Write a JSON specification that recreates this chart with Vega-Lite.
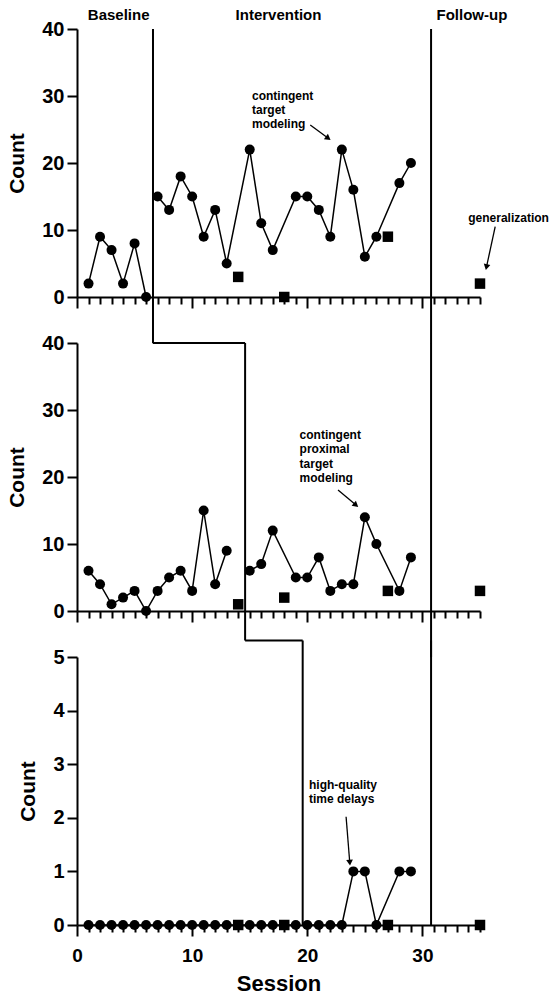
{
  "$schema": "https://vega.github.io/schema/vega-lite/v6.json",
  "padding": {"left": 6, "top": 7, "right": 0, "bottom": 0},
  "bounds": "flush",
  "spacing": 46,
  "config": {
    "font": "Liberation Sans",
    "view": {"stroke": null},
    "axis": {"grid": false, "domainColor": "black", "domainWidth": 2, "tickColor": "black", "tickWidth": 2, "labelColor": "black", "titleColor": "black", "labelFont": "Liberation Sans", "titleFont": "Liberation Sans", "labelFontWeight": "bold", "titleFontWeight": "bold", "labelFontSize": 20, "titleFontSize": 21}
  },
  "datasets": {
    "pts": [
      {"panel": 1, "session": 1, "count": 2, "marker": "circle", "phase": "baseline"},
      {"panel": 1, "session": 2, "count": 9, "marker": "circle", "phase": "baseline"},
      {"panel": 1, "session": 3, "count": 7, "marker": "circle", "phase": "baseline"},
      {"panel": 1, "session": 4, "count": 2, "marker": "circle", "phase": "baseline"},
      {"panel": 1, "session": 5, "count": 8, "marker": "circle", "phase": "baseline"},
      {"panel": 1, "session": 6, "count": 0, "marker": "circle", "phase": "baseline"},
      {"panel": 1, "session": 7, "count": 15, "marker": "circle", "phase": "intervention"},
      {"panel": 1, "session": 8, "count": 13, "marker": "circle", "phase": "intervention"},
      {"panel": 1, "session": 9, "count": 18, "marker": "circle", "phase": "intervention"},
      {"panel": 1, "session": 10, "count": 15, "marker": "circle", "phase": "intervention"},
      {"panel": 1, "session": 11, "count": 9, "marker": "circle", "phase": "intervention"},
      {"panel": 1, "session": 12, "count": 13, "marker": "circle", "phase": "intervention"},
      {"panel": 1, "session": 13, "count": 5, "marker": "circle", "phase": "intervention"},
      {"panel": 1, "session": 14, "count": 3, "marker": "square", "phase": "intervention"},
      {"panel": 1, "session": 15, "count": 22, "marker": "circle", "phase": "intervention"},
      {"panel": 1, "session": 16, "count": 11, "marker": "circle", "phase": "intervention"},
      {"panel": 1, "session": 17, "count": 7, "marker": "circle", "phase": "intervention"},
      {"panel": 1, "session": 18, "count": 0, "marker": "square", "phase": "intervention"},
      {"panel": 1, "session": 19, "count": 15, "marker": "circle", "phase": "intervention"},
      {"panel": 1, "session": 20, "count": 15, "marker": "circle", "phase": "intervention"},
      {"panel": 1, "session": 21, "count": 13, "marker": "circle", "phase": "intervention"},
      {"panel": 1, "session": 22, "count": 9, "marker": "circle", "phase": "intervention"},
      {"panel": 1, "session": 23, "count": 22, "marker": "circle", "phase": "intervention"},
      {"panel": 1, "session": 24, "count": 16, "marker": "circle", "phase": "intervention"},
      {"panel": 1, "session": 25, "count": 6, "marker": "circle", "phase": "intervention"},
      {"panel": 1, "session": 26, "count": 9, "marker": "circle", "phase": "intervention"},
      {"panel": 1, "session": 27, "count": 9, "marker": "square", "phase": "intervention"},
      {"panel": 1, "session": 28, "count": 17, "marker": "circle", "phase": "intervention"},
      {"panel": 1, "session": 29, "count": 20, "marker": "circle", "phase": "intervention"},
      {"panel": 1, "session": 35, "count": 2, "marker": "square", "phase": "follow-up"},

      {"panel": 2, "session": 1, "count": 6, "marker": "circle", "phase": "baseline"},
      {"panel": 2, "session": 2, "count": 4, "marker": "circle", "phase": "baseline"},
      {"panel": 2, "session": 3, "count": 1, "marker": "circle", "phase": "baseline"},
      {"panel": 2, "session": 4, "count": 2, "marker": "circle", "phase": "baseline"},
      {"panel": 2, "session": 5, "count": 3, "marker": "circle", "phase": "baseline"},
      {"panel": 2, "session": 6, "count": 0, "marker": "circle", "phase": "baseline"},
      {"panel": 2, "session": 7, "count": 3, "marker": "circle", "phase": "baseline"},
      {"panel": 2, "session": 8, "count": 5, "marker": "circle", "phase": "baseline"},
      {"panel": 2, "session": 9, "count": 6, "marker": "circle", "phase": "baseline"},
      {"panel": 2, "session": 10, "count": 3, "marker": "circle", "phase": "baseline"},
      {"panel": 2, "session": 11, "count": 15, "marker": "circle", "phase": "baseline"},
      {"panel": 2, "session": 12, "count": 4, "marker": "circle", "phase": "baseline"},
      {"panel": 2, "session": 13, "count": 9, "marker": "circle", "phase": "baseline"},
      {"panel": 2, "session": 14, "count": 1, "marker": "square", "phase": "baseline"},
      {"panel": 2, "session": 15, "count": 6, "marker": "circle", "phase": "intervention"},
      {"panel": 2, "session": 16, "count": 7, "marker": "circle", "phase": "intervention"},
      {"panel": 2, "session": 17, "count": 12, "marker": "circle", "phase": "intervention"},
      {"panel": 2, "session": 18, "count": 2, "marker": "square", "phase": "intervention"},
      {"panel": 2, "session": 19, "count": 5, "marker": "circle", "phase": "intervention"},
      {"panel": 2, "session": 20, "count": 5, "marker": "circle", "phase": "intervention"},
      {"panel": 2, "session": 21, "count": 8, "marker": "circle", "phase": "intervention"},
      {"panel": 2, "session": 22, "count": 3, "marker": "circle", "phase": "intervention"},
      {"panel": 2, "session": 23, "count": 4, "marker": "circle", "phase": "intervention"},
      {"panel": 2, "session": 24, "count": 4, "marker": "circle", "phase": "intervention"},
      {"panel": 2, "session": 25, "count": 14, "marker": "circle", "phase": "intervention"},
      {"panel": 2, "session": 26, "count": 10, "marker": "circle", "phase": "intervention"},
      {"panel": 2, "session": 27, "count": 3, "marker": "square", "phase": "intervention"},
      {"panel": 2, "session": 28, "count": 3, "marker": "circle", "phase": "intervention"},
      {"panel": 2, "session": 29, "count": 8, "marker": "circle", "phase": "intervention"},
      {"panel": 2, "session": 35, "count": 3, "marker": "square", "phase": "follow-up"},

      {"panel": 3, "session": 1, "count": 0, "marker": "circle", "phase": "baseline"},
      {"panel": 3, "session": 2, "count": 0, "marker": "circle", "phase": "baseline"},
      {"panel": 3, "session": 3, "count": 0, "marker": "circle", "phase": "baseline"},
      {"panel": 3, "session": 4, "count": 0, "marker": "circle", "phase": "baseline"},
      {"panel": 3, "session": 5, "count": 0, "marker": "circle", "phase": "baseline"},
      {"panel": 3, "session": 6, "count": 0, "marker": "circle", "phase": "baseline"},
      {"panel": 3, "session": 7, "count": 0, "marker": "circle", "phase": "baseline"},
      {"panel": 3, "session": 8, "count": 0, "marker": "circle", "phase": "baseline"},
      {"panel": 3, "session": 9, "count": 0, "marker": "circle", "phase": "baseline"},
      {"panel": 3, "session": 10, "count": 0, "marker": "circle", "phase": "baseline"},
      {"panel": 3, "session": 11, "count": 0, "marker": "circle", "phase": "baseline"},
      {"panel": 3, "session": 12, "count": 0, "marker": "circle", "phase": "baseline"},
      {"panel": 3, "session": 13, "count": 0, "marker": "circle", "phase": "baseline"},
      {"panel": 3, "session": 14, "count": 0, "marker": "square", "phase": "baseline"},
      {"panel": 3, "session": 15, "count": 0, "marker": "circle", "phase": "baseline"},
      {"panel": 3, "session": 16, "count": 0, "marker": "circle", "phase": "baseline"},
      {"panel": 3, "session": 17, "count": 0, "marker": "circle", "phase": "baseline"},
      {"panel": 3, "session": 18, "count": 0, "marker": "square", "phase": "baseline"},
      {"panel": 3, "session": 19, "count": 0, "marker": "circle", "phase": "baseline"},
      {"panel": 3, "session": 20, "count": 0, "marker": "circle", "phase": "intervention"},
      {"panel": 3, "session": 21, "count": 0, "marker": "circle", "phase": "intervention"},
      {"panel": 3, "session": 22, "count": 0, "marker": "circle", "phase": "intervention"},
      {"panel": 3, "session": 23, "count": 0, "marker": "circle", "phase": "intervention"},
      {"panel": 3, "session": 24, "count": 1, "marker": "circle", "phase": "intervention"},
      {"panel": 3, "session": 25, "count": 1, "marker": "circle", "phase": "intervention"},
      {"panel": 3, "session": 26, "count": 0, "marker": "circle", "phase": "intervention"},
      {"panel": 3, "session": 27, "count": 0, "marker": "square", "phase": "intervention"},
      {"panel": 3, "session": 28, "count": 1, "marker": "circle", "phase": "intervention"},
      {"panel": 3, "session": 29, "count": 1, "marker": "circle", "phase": "intervention"},
      {"panel": 3, "session": 35, "count": 0, "marker": "square", "phase": "follow-up"}
    ],
    "rules": [
      {"panel": 1, "session": 6.6, "session2": 6.6, "count": 40, "count2": -6.9},
      {"panel": 1, "session": 30.75, "session2": 30.75, "count": 40, "count2": -6.9},
      {"panel": 2, "session": 6.6, "session2": 14.6, "count": 40, "count2": 40},
      {"panel": 2, "session": 14.6, "session2": 14.6, "count": 40, "count2": -4.39},
      {"panel": 2, "session": 30.75, "session2": 30.75, "count": 40, "count2": -6.9},
      {"panel": 3, "session": 14.6, "session2": 19.6, "count": 5.31, "count2": 5.31},
      {"panel": 3, "session": 19.6, "session2": 19.6, "count": 5.31, "count2": 0},
      {"panel": 3, "session": 30.75, "session2": 30.75, "count": 5.31, "count2": 0}
    ],
    "phases": [
      {"session": 3.62, "count": 42.1, "label": "Baseline"},
      {"session": 17.5, "count": 42.1, "label": "Intervention"},
      {"session": 34.3, "count": 42.1, "label": "Follow-up"}
    ],
    "notes": [
      {"panel": 1, "session": 15.2, "count": 30.8, "label": "contingent\ntarget\nmodeling"},
      {"panel": 2, "session": 19.33, "count": 27.0, "label": "contingent\nproximal\ntarget\nmodeling"},
      {"panel": 3, "session": 20.15, "count": 2.71, "label": "high-quality\ntime delays"}
    ],
    "centerNotes": [
      {"panel": 1, "session": 37.48, "count": 11.83, "label": "generalization"}
    ],
    "arrows": [
      {"panel": 1, "note": "top", "session": 20.26, "count": 25.67, "session2": 21.82, "count2": 23.7},
      {"panel": 1, "note": "gen", "session": 36.32, "count": 10.49, "session2": 35.56, "count2": 4.46},
      {"panel": 2, "note": "mid", "session": 22.67, "count": 18.06, "session2": 24.23, "count2": 15.81},
      {"panel": 3, "note": "bot", "session": 23.37, "count": 2.02, "session2": 23.69, "count2": 1.162}
    ],
    "heads": [
      {"panel": 1, "note": "top", "session": 21.82, "count": 23.7},
      {"panel": 1, "note": "gen", "session": 35.56, "count": 4.46},
      {"panel": 2, "note": "mid", "session": 24.23, "count": 15.81},
      {"panel": 3, "note": "bot", "session": 23.69, "count": 1.162}
    ]
  },
  "vconcat": [
    {
      "width": 403,
      "height": 268,
      "encoding": {
        "x": {"field": "session", "type": "quantitative", "scale": {"domain": [0, 35], "nice": false, "zero": false},
          "axis": {"values": [0,1,2,3,4,5,6,7,8,9,10,11,12,13,14,15,16,17,18,19,20,21,22,23,24,25,26,27,28,29,30,31,32,33,34,35], "labels": false, "title": null,
            "tickSize": {"condition": {"test": "datum.value % 10 === 0", "value": 11}, "value": 7}}},
        "y": {"field": "count", "type": "quantitative", "scale": {"domain": [0, 40], "nice": false},
          "axis": {"values": [0, 10, 20, 30, 40], "tickSize": 10, "labelPadding": 3, "title": "Count", "titlePadding": 14}}
      },
      "layer": [
        {"data": {"name": "rules"}, "transform": [{"filter": "datum.panel === 1"}], "mark": {"type": "rule", "color": "black", "strokeWidth": 2}, "encoding": {"x2": {"field": "session2"}, "y2": {"field": "count2"}}},
        {"data": {"name": "pts"}, "transform": [{"filter": "datum.panel === 1 && datum.marker === 'circle'"}], "mark": {"type": "line", "color": "black", "strokeWidth": 1.5}, "encoding": {"detail": {"field": "phase"}, "order": {"field": "session"}}},
        {"data": {"name": "pts"}, "transform": [{"filter": "datum.panel === 1 && datum.marker === 'circle'"}], "mark": {"type": "point", "shape": "circle", "filled": true, "color": "black", "opacity": 1, "size": 100}},
        {"data": {"name": "pts"}, "transform": [{"filter": "datum.panel === 1 && datum.marker === 'square'"}], "mark": {"type": "point", "shape": "square", "filled": true, "color": "black", "opacity": 1, "size": 110}},
        {"data": {"name": "phases"}, "mark": {"type": "text", "fontWeight": "bold", "fontSize": 15, "align": "center", "baseline": "middle", "color": "black"}, "encoding": {"text": {"field": "label"}}},
        {"data": {"name": "notes"}, "transform": [{"filter": "datum.panel === 1"}], "mark": {"type": "text", "fontWeight": "bold", "fontSize": 12, "align": "left", "baseline": "top", "lineBreak": "\n", "lineHeight": 14.3, "color": "black"}, "encoding": {"text": {"field": "label"}}},
        {"data": {"name": "centerNotes"}, "transform": [{"filter": "datum.panel === 1"}], "mark": {"type": "text", "fontWeight": "bold", "fontSize": 12, "align": "center", "baseline": "middle", "color": "black"}, "encoding": {"text": {"field": "label"}}},
        {"data": {"name": "arrows"}, "transform": [{"filter": "datum.panel === 1"}], "mark": {"type": "rule", "color": "black", "strokeWidth": 1.3}, "encoding": {"x2": {"field": "session2"}, "y2": {"field": "count2"}}},
        {"data": {"name": "heads"}, "transform": [{"filter": "datum.note === 'top'"}], "mark": {"type": "point", "shape": "triangle-up", "filled": true, "color": "black", "opacity": 1, "size": 45, "angle": 126.5}},
        {"data": {"name": "heads"}, "transform": [{"filter": "datum.note === 'gen'"}], "mark": {"type": "point", "shape": "triangle-up", "filled": true, "color": "black", "opacity": 1, "size": 45, "angle": 192.2}}
      ]
    },
    {
      "width": 403,
      "height": 268,
      "encoding": {
        "x": {"field": "session", "type": "quantitative", "scale": {"domain": [0, 35], "nice": false, "zero": false},
          "axis": {"values": [0,1,2,3,4,5,6,7,8,9,10,11,12,13,14,15,16,17,18,19,20,21,22,23,24,25,26,27,28,29,30,31,32,33,34,35], "labels": false, "title": null,
            "tickSize": {"condition": {"test": "datum.value % 10 === 0", "value": 11}, "value": 7}}},
        "y": {"field": "count", "type": "quantitative", "scale": {"domain": [0, 40], "nice": false},
          "axis": {"values": [0, 10, 20, 30, 40], "tickSize": 10, "labelPadding": 3, "title": "Count", "titlePadding": 14}}
      },
      "layer": [
        {"data": {"name": "rules"}, "transform": [{"filter": "datum.panel === 2"}], "mark": {"type": "rule", "color": "black", "strokeWidth": 2}, "encoding": {"x2": {"field": "session2"}, "y2": {"field": "count2"}}},
        {"data": {"name": "pts"}, "transform": [{"filter": "datum.panel === 2 && datum.marker === 'circle'"}], "mark": {"type": "line", "color": "black", "strokeWidth": 1.5}, "encoding": {"detail": {"field": "phase"}, "order": {"field": "session"}}},
        {"data": {"name": "pts"}, "transform": [{"filter": "datum.panel === 2 && datum.marker === 'circle'"}], "mark": {"type": "point", "shape": "circle", "filled": true, "color": "black", "opacity": 1, "size": 100}},
        {"data": {"name": "pts"}, "transform": [{"filter": "datum.panel === 2 && datum.marker === 'square'"}], "mark": {"type": "point", "shape": "square", "filled": true, "color": "black", "opacity": 1, "size": 110}},
        {"data": {"name": "notes"}, "transform": [{"filter": "datum.panel === 2"}], "mark": {"type": "text", "fontWeight": "bold", "fontSize": 12, "align": "left", "baseline": "top", "lineBreak": "\n", "lineHeight": 14.3, "color": "black"}, "encoding": {"text": {"field": "label"}}},
        {"data": {"name": "arrows"}, "transform": [{"filter": "datum.panel === 2"}], "mark": {"type": "rule", "color": "black", "strokeWidth": 1.3}, "encoding": {"x2": {"field": "session2"}, "y2": {"field": "count2"}}},
        {"data": {"name": "heads"}, "transform": [{"filter": "datum.note === 'mid'"}], "mark": {"type": "point", "shape": "triangle-up", "filled": true, "color": "black", "opacity": 1, "size": 45, "angle": 129.9}}
      ]
    },
    {
      "width": 403,
      "height": 268,
      "encoding": {
        "x": {"field": "session", "type": "quantitative", "scale": {"domain": [0, 35], "nice": false, "zero": false},
          "axis": {"values": [0,1,2,3,4,5,6,7,8,9,10,11,12,13,14,15,16,17,18,19,20,21,22,23,24,25,26,27,28,29,30,31,32,33,34,35], "title": "Session", "titlePadding": 8, "titleFontSize": 22, "labelFontSize": 19,
            "labelExpr": "datum.value % 10 === 0 ? datum.label : ''", "labelOverlap": false, "labelFlush": false, "labelBound": false, "labelPadding": 10,
            "tickSize": {"condition": {"test": "datum.value % 10 === 0", "value": 11}, "value": 7}}},
        "y": {"field": "count", "type": "quantitative", "scale": {"domain": [0, 5], "nice": false},
          "axis": {"values": [0, 1, 2, 3, 4, 5], "tickSize": 10, "labelPadding": 3, "title": "Count", "titlePadding": 14}}
      },
      "layer": [
        {"data": {"name": "rules"}, "transform": [{"filter": "datum.panel === 3"}], "mark": {"type": "rule", "color": "black", "strokeWidth": 2}, "encoding": {"x2": {"field": "session2"}, "y2": {"field": "count2"}}},
        {"data": {"name": "pts"}, "transform": [{"filter": "datum.panel === 3 && datum.marker === 'circle'"}], "mark": {"type": "line", "color": "black", "strokeWidth": 1.5}, "encoding": {"detail": {"field": "phase"}, "order": {"field": "session"}}},
        {"data": {"name": "pts"}, "transform": [{"filter": "datum.panel === 3 && datum.marker === 'circle'"}], "mark": {"type": "point", "shape": "circle", "filled": true, "color": "black", "opacity": 1, "size": 100}},
        {"data": {"name": "pts"}, "transform": [{"filter": "datum.panel === 3 && datum.marker === 'square'"}], "mark": {"type": "point", "shape": "square", "filled": true, "color": "black", "opacity": 1, "size": 110}},
        {"data": {"name": "notes"}, "transform": [{"filter": "datum.panel === 3"}], "mark": {"type": "text", "fontWeight": "bold", "fontSize": 12, "align": "left", "baseline": "top", "lineBreak": "\n", "lineHeight": 14.3, "color": "black"}, "encoding": {"text": {"field": "label"}}},
        {"data": {"name": "arrows"}, "transform": [{"filter": "datum.panel === 3"}], "mark": {"type": "rule", "color": "black", "strokeWidth": 1.3}, "encoding": {"x2": {"field": "session2"}, "y2": {"field": "count2"}}},
        {"data": {"name": "heads"}, "transform": [{"filter": "datum.note === 'bot'"}], "mark": {"type": "point", "shape": "triangle-up", "filled": true, "color": "black", "opacity": 1, "size": 45, "angle": 175.3}}
      ]
    }
  ]
}
